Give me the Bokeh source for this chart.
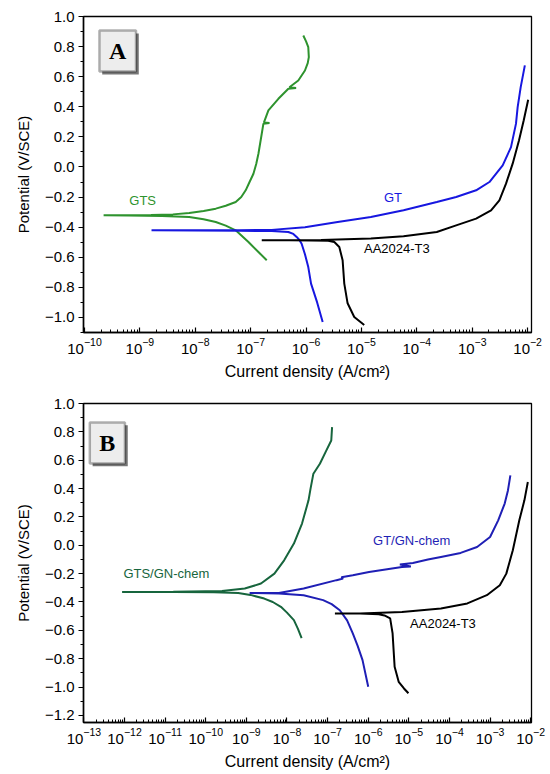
import numpy as np
from bokeh.plotting import figure
from bokeh.layouts import column
from bokeh.models import FixedTicker, CustomJSTickFormatter, LogTickFormatter, BoxAnnotation, Label, Range1d
from bokeh.embed import file_html
from bokeh.resources import INLINE

# ---------------- data (log10 of current density in A/cm2, potential in V/SCE) ----------------
# Panel A : GTS
a_gts_logi = [-6.71, -6.86, -7.04, -7.27, -7.45, -7.63, -7.85, -8.11, -8.6, -9.2, -9.655,
              -9.2, -8.8, -8.405, -8.11, -7.85, -7.63, -7.45, -7.27, -7.17, -7.09, -7.02, -6.95,
              -6.90, -6.86, -6.80, -6.77, -6.66, -6.76, -6.68, -6.50, -6.32, -6.18, -6.30, -6.14,
              -6.02, -5.97, -5.95, -5.96, -6.0, -6.05]
a_gts_e = [-0.62, -0.565, -0.499, -0.421, -0.39, -0.366, -0.347, -0.333, -0.325, -0.322, -0.321,
           -0.321, -0.319, -0.315, -0.306, -0.292, -0.277, -0.258, -0.233, -0.20, -0.155, -0.10, -0.045,
           0.02, 0.088, 0.221, 0.288, 0.292, 0.296, 0.376, 0.453, 0.52, 0.525, 0.53, 0.575,
           0.641, 0.69, 0.73, 0.796, 0.835, 0.874]
# Panel A : GT
a_gt_logi = [-5.70, -5.80, -5.91, -5.96, -6.02, -6.08, -6.12, -6.17, -6.23, -6.32, -6.62, -7.2, -8.0, -8.79,
             -8.0, -7.21, -6.62, -6.02, -5.43, -4.83, -4.24, -3.64, -3.29, -2.93, -2.69, -2.45,
             -2.30, -2.21, -2.18, -2.125, -2.05]
a_gt_e = [-1.03, -0.90, -0.775, -0.665, -0.58, -0.51, -0.485, -0.465, -0.445, -0.432, -0.426, -0.424, -0.422, -0.421,
          -0.421, -0.421, -0.418, -0.40, -0.366, -0.333, -0.288, -0.233, -0.20, -0.155, -0.10, 0.011,
          0.132, 0.288, 0.398, 0.531, 0.675]
# Panel A : AA2024-T3
a_aa_logi = [-4.95, -5.13, -5.25, -5.31, -5.34, -5.40, -5.49, -5.6, -5.9, -6.3, -6.80,
             -6.3, -5.73, -4.83, -4.24, -3.64, -3.29, -2.93, -2.66, -2.51, -2.39, -2.27, -2.155, -2.07, -1.99]
a_aa_e = [-1.05, -0.997, -0.906, -0.775, -0.62, -0.532, -0.499, -0.49, -0.488, -0.487, -0.487,
          -0.487, -0.486, -0.476, -0.461, -0.432, -0.388, -0.343, -0.288, -0.222, -0.111, 0.022, 0.177, 0.31, 0.447]

# Panel B : GTS/GN-chem
b_gts_logi = [-7.64, -7.73, -7.83, -8.0, -8.15, -8.35, -8.56, -8.9, -9.20, -9.8, -10.8, -12.06,
              -10.8, -9.60, -9.04, -8.64, -8.31, -8.07, -7.83, -7.63, -7.47, -7.42, -7.35, -7.19,
              -7.03, -6.91, -6.89]
b_gts_e = [-0.655, -0.59, -0.528, -0.475, -0.434, -0.40, -0.376, -0.35, -0.336, -0.331, -0.329, -0.329,
           -0.328, -0.322, -0.305, -0.27, -0.2, -0.106, 0.012, 0.153, 0.317, 0.40, 0.505, 0.575,
           0.669, 0.739, 0.833]
# Panel B : GT/GN-chem
b_gt_logi = [-6.0, -6.14, -6.26, -6.38, -6.52, -6.70, -6.90, -7.11, -7.59, -8.2, -8.92,
             -8.2, -7.59, -6.78, -6.62, -6.66, -6.38, -5.98, -5.17, -4.95, -5.22, -4.90,
             -4.53, -4.21, -3.725, -3.32, -3.0, -2.80, -2.64, -2.56, -2.50]
b_gt_e = [-0.998, -0.81, -0.71, -0.622, -0.53, -0.458, -0.415, -0.387, -0.352, -0.34, -0.336,
          -0.336, -0.305, -0.246, -0.235, -0.225, -0.211, -0.188, -0.153, -0.15, -0.135, -0.125,
          -0.101, -0.082, -0.054, -0.012, 0.058, 0.176, 0.294, 0.387, 0.493]
# Panel B : AA2024-T3
b_aa_logi = [-5.01, -5.12, -5.25, -5.35, -5.40, -5.46, -5.6, -5.74, -6.2, -6.82,
             -6.2, -5.17, -4.21, -3.56, -3.08, -2.76, -2.60, -2.44, -2.28, -2.155, -2.07]
b_aa_e = [-1.044, -1.01, -0.963, -0.857, -0.622, -0.516, -0.495, -0.486, -0.482, -0.481,
          -0.481, -0.47, -0.446, -0.41, -0.352, -0.282, -0.2, -0.035, 0.176, 0.317, 0.446]

a_labels = ["GTS", "GT", "AA2024-T3"]
b_labels = ["GTS/GN-chem", "GT/GN-chem", "AA2024-T3"]

x_label = "Current density (A/cm\u00b2)"
y_label = "Potential (V/SCE)"

FONT = "Liberation Sans"
YFMT = "return tick.toFixed(1).replace('-', '\u2212');"


def make_panel(height, xr, yr, dec_lo, dec_hi, y_lo, borders):
    bl, br, bt, bb = borders
    p = figure(width=550, height=height, x_axis_type="log",
               x_range=Range1d(10 ** xr[0], 10 ** xr[1]), y_range=Range1d(*yr),
               output_backend="svg", toolbar_location=None,
               min_border_left=bl, min_border_right=br, min_border_top=bt, min_border_bottom=bb)
    p.grid.visible = False
    p.outline_line_color = "black"
    p.outline_line_width = 1.3
    p.background_fill_color = "white"
    p.border_fill_color = "white"

    majors = [10.0 ** k for k in range(dec_lo, dec_hi + 1)]
    minors = [m * 10.0 ** k for k in range(dec_lo, dec_hi) for m in range(2, 10)]
    p.xaxis.ticker = FixedTicker(ticks=majors, minor_ticks=minors)
    p.xaxis.formatter = LogTickFormatter()
    yt = [round(v / 10, 1) for v in range(int(round(y_lo * 10)), 11, 2)]
    ym = [round(v / 10, 1) for v in range(int(round(y_lo * 10)) - 1, 11, 1)]
    p.yaxis.ticker = FixedTicker(ticks=yt, minor_ticks=ym)
    p.yaxis.formatter = CustomJSTickFormatter(code=YFMT)

    for ax in (p.xaxis[0], p.yaxis[0]):
        ax.axis_line_width = 1.5
        ax.axis_line_color = "black"
        ax.major_tick_line_color = "black"
        ax.minor_tick_line_color = "black"
        ax.major_tick_line_width = 1.2
        ax.minor_tick_line_width = 1
        ax.major_label_text_font = FONT
        ax.major_label_text_font_size = "15px"
        ax.major_label_text_color = "black"
        ax.axis_label_text_font = FONT
        ax.axis_label_text_font_style = "normal"
        ax.axis_label_text_color = "black"
    p.xaxis.axis_label_text_font_size = "16px"
    p.yaxis.axis_label_text_font_size = "15px"
    p.xaxis.major_tick_in = 5
    p.xaxis.major_tick_out = 0
    p.xaxis.minor_tick_in = 3
    p.xaxis.minor_tick_out = 0
    p.xaxis.major_label_standoff = 5
    p.xaxis.axis_label_standoff = 6
    p.yaxis.major_tick_in = 0
    p.yaxis.major_tick_out = 5
    p.yaxis.minor_tick_in = 0
    p.yaxis.minor_tick_out = 3
    p.yaxis.major_label_standoff = 4
    p.yaxis.axis_label_standoff = 10
    p.xaxis.axis_label = x_label
    p.yaxis.axis_label = y_label
    return p


def add_tag(p, letter, x0, x1, y0, y1, dx, dy, size):
    p.add_layout(BoxAnnotation(left=10 ** (x0 + dx), right=10 ** (x1 + dx), bottom=y0 - dy, top=y1 - dy,
                               fill_color="#555555", fill_alpha=0.8, line_color=None))
    p.add_layout(BoxAnnotation(left=10 ** x0, right=10 ** x1, bottom=y0, top=y1,
                               fill_color="#ededed", fill_alpha=1.0, line_color="black", line_width=2.5))
    p.add_layout(Label(x=10 ** ((x0 + x1) / 2), y=(y0 + y1) / 2, text=letter,
                       text_font="Liberation Serif", text_font_style="bold", text_font_size=size,
                       text_align="center", text_baseline="middle", text_color="black"))


def add_text(p, x, y, txt, color):
    p.add_layout(Label(x=10 ** x, y=y, text=txt, text_font=FONT, text_font_size="13px",
                       text_align="center", text_baseline="middle", text_color=color))


GREEN_A = "#2e932e"
GREEN_B = "#17653d"
BLUE_A = "#1717e0"
BLUE_B = "#1f1fb5"

# Panel A
pa = make_panel(386, (-10.018, -1.93), (-1.1, 1.0), -10, -2, -1.0, (83, 14, 16, 54))
pa.line(10 ** np.array(a_gts_logi), a_gts_e, line_width=2, line_color=GREEN_A)
pa.line(10 ** np.array(a_gt_logi), a_gt_e, line_width=2, line_color=BLUE_A)
pa.line(10 ** np.array(a_aa_logi), a_aa_e, line_width=2, line_color="black")
add_tag(pa, "A", -9.73, -9.07, 0.635, 0.907, 0.05, 0.02, "24px")
add_text(pa, -8.95, -0.22, a_labels[0], GREEN_A)
add_text(pa, -4.43, -0.20, a_labels[1], BLUE_A)
add_text(pa, -4.36, -0.54, a_labels[2], "black")

# Panel B
pb = make_panel(388, (-13.01, -1.98), (-1.25, 1.0), -13, -2, -1.2, (76, 19, 17, 52))
pb.line(10 ** np.array(b_gts_logi), b_gts_e, line_width=2, line_color=GREEN_B)
pb.line(10 ** np.array(b_gt_logi), b_gt_e, line_width=2, line_color=BLUE_B)
pb.line(10 ** np.array(b_aa_logi), b_aa_e, line_width=2, line_color="black")
add_tag(pb, "B", -12.855, -11.99, 0.577, 0.866, 0.07, 0.02, "24px")
add_text(pb, -10.97, -0.197, b_labels[0], GREEN_B)
add_text(pb, -4.93, 0.035, b_labels[1], BLUE_B)
add_text(pb, -4.16, -0.55, b_labels[2], "black")

layout = column(pa, pb, spacing=0)
open("out.html", "w").write(file_html(layout, INLINE))
